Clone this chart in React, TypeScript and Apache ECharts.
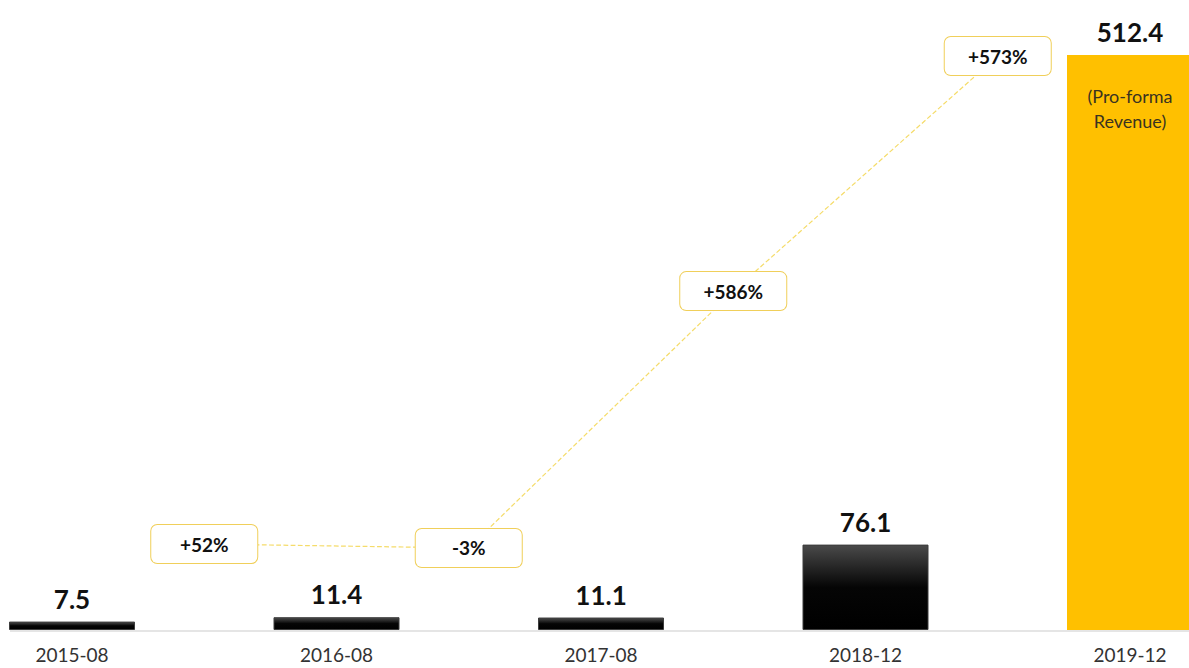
import React, { useEffect, useRef } from "react";
import * as echarts from "echarts";

const categories = ["2015-08", "2016-08", "2017-08", "2018-12", "2019-12"];
const revenue = [7.5, 11.4, 11.1, 76.1, 512.4];
const growthLabels = ["+52%", "-3%", "+586%", "+573%"];
// vertical level (in revenue units) of each growth marker
const growthMarkerLevels = [76.6, 73.1, 302, 511.5];
// growth markers sit midway between consecutive periods
const growthMarkerSlots = [0.5, 1.5, 2.5, 3.5];
const highlightIndex = 4;
const highlightNote = "(Pro-forma\nRevenue)";

const FONT = "Lato, 'Open Sans', sans-serif";

export default function App() {
  const ref = useRef<HTMLDivElement>(null);

  useEffect(() => {
    if (!ref.current) return;
    const chart = echarts.init(ref.current, undefined, { renderer: "svg" });

    const blackGradient = new echarts.graphic.LinearGradient(0, 0, 0, 1, [
      { offset: 0, color: "#4a4a4a" },
      { offset: 0.5, color: "#050505" },
      { offset: 1, color: "#000000" },
    ]);

    const option: any = {
      animation: false,
      backgroundColor: "#ffffff",
      grid: { left: 72, right: 59, top: 55, bottom: 38, containLabel: false },
      xAxis: [
        {
          type: "category",
          data: categories,
          boundaryGap: false,
          axisLine: { show: false },
          axisTick: { show: false },
          splitLine: { show: false },
          axisLabel: {
            interval: 0,
            fontSize: 19,
            lineHeight: 20,
            color: "#333333",
            margin: 14,
            fontFamily: FONT,
          },
        },
        { type: "value", min: 0, max: 4, show: false },
      ],
      yAxis: { type: "value", min: 0, max: 512.4, show: false, splitLine: { show: false } },
      series: [
        {
          type: "bar",
          barWidth: 126,
          barGap: "-100%",
          clip: false,
          z: 2,
          data: revenue.map((v, i) => ({
            value: v,
            itemStyle:
              i === highlightIndex
                ? { color: "#FFC000", borderWidth: 0 }
                : { color: blackGradient, borderColor: "#3c3c3c", borderWidth: 1 },
          })),
          label: {
            show: true,
            position: "top",
            distance: 10,
            fontSize: 26,
            fontWeight: "bold",
            color: "#111111",
            fontFamily: FONT,
            formatter: (p: any) => Number(p.value).toFixed(1),
          },
        },
        {
          type: "bar",
          barWidth: 126,
          barGap: "-100%",
          clip: false,
          silent: true,
          z: 3,
          itemStyle: { color: "rgba(0,0,0,0)" },
          data: revenue.map((v, i) => (i === highlightIndex ? v : null)),
          label: {
            show: true,
            position: "insideTop",
            distance: 28,
            fontSize: 18,
            lineHeight: 25,
            color: "#3a3320",
            fontFamily: FONT,
            formatter: () => highlightNote,
          },
        },
        {
          type: "line",
          xAxisIndex: 1,
          yAxisIndex: 0,
          z: 4,
          symbol: "circle",
          symbolSize: 1,
          itemStyle: { color: "rgba(0,0,0,0)" },
          lineStyle: { type: "dashed", color: "#f5dc6a", width: 1.2 },
          data: growthMarkerSlots.map((x, i) => [x, growthMarkerLevels[i]]),
          label: {
            show: true,
            position: "inside",
            formatter: (p: any) => growthLabels[p.dataIndex],
            fontSize: 19,
            fontWeight: "bold",
            color: "#111111",
            fontFamily: FONT,
            backgroundColor: "#ffffff",
            borderColor: "#f0cf5a",
            borderWidth: 1,
            borderRadius: 6,
            width: 106,
            align: "center",
            lineHeight: 20,
            padding: [9, 0, 9, 0],
          },
        },
      ],
    };

    chart.setOption(option);

    const y0 = chart.convertToPixel({ yAxisIndex: 0 }, 0) as number;
    const w = chart.getWidth();
    chart.setOption({
      graphic: [
        {
          type: "line",
          z: 1,
          silent: true,
          shape: { x1: 10, y1: y0 + 1, x2: w, y2: y0 + 1 },
          style: { stroke: "#dddddd", lineWidth: 1.5 },
        },
      ],
    });

    return () => chart.dispose();
  }, []);

  return (
    <div
      ref={ref}
      style={{ position: "absolute", left: 0, top: 0, width: 1189, height: 668 }}
    />
  );
}
